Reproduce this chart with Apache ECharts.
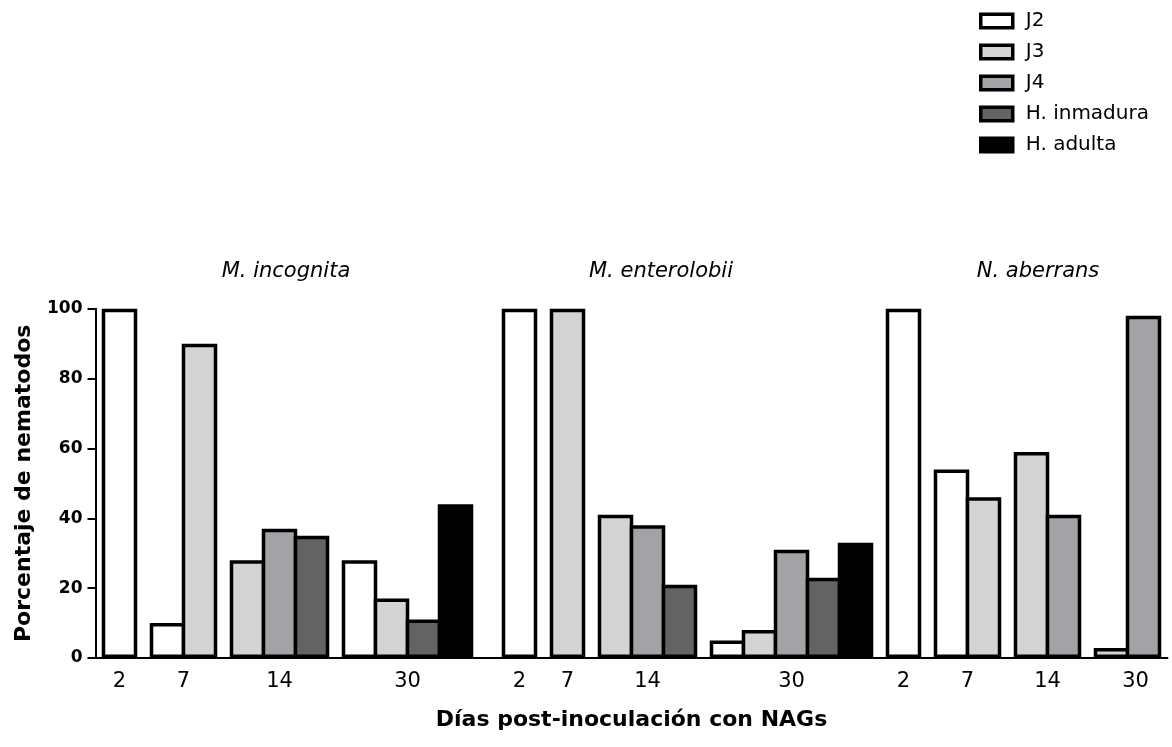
<!DOCTYPE html>
<html>
<head>
<meta charset="utf-8">
<script src="https://cdn.jsdelivr.net/npm/echarts@6/dist/echarts.min.js"></script>
<style>
html,body{margin:0;padding:0;background:#fff;}
#chart{width:1172px;height:747px;}
</style>
</head>
<body>
<div id="chart"></div>
<script>
// ---- data ----
const stages = ['J2', 'J3', 'J4', 'H. inmadura', 'H. adulta'];
const species = ['M. incognita', 'M. enterolobii', 'N. aberrans'];
const days = ['2', '7', '14', '30'];
// rows: days (2, 7, 14, 30); columns: stages (J2, J3, J4, H. inmadura, H. adulta); null = no bar
const mIncognita = [
  [100, null, null, null, null],
  [10, 90, null, null, null],
  [null, 28, 37, 35, null],
  [28, 17, null, 11, 44]
];
const mEnterolobii = [
  [100, null, null, null, null],
  [null, 100, null, null, null],
  [null, 41, 38, 21, null],
  [5, 8, 31, 23, 33]
];
const nAberrans = [
  [100, null, null, null, null],
  [54, 46, null, null, null],
  [null, 59, 41, null, null],
  [null, 2, 98, null, null]
];
const yTicks = [0, 20, 40, 60, 80, 100];

// ---- style ----
const stageColors = ['#ffffff', '#d4d4d4', '#a3a3a7', '#636363', '#000000'];
const FONT = 'DejaVu Sans';

// ---- layout in half-slot categories ----
const speciesData = [mIncognita, mEnterolobii, nAberrans];
const gapBeforeSpecies = [1, 4, 3];   // spacer half-slots before each species block
const gapBetweenDays = 3;
const gapBetweenBars = 2;
const labelShift = {'2-3': 8};        // px shift of a day label (species-day)

const cells = [];     // each: {stage, value} or null
const dayLabels = {}; // category index -> {text, shift}
const tickIdx = new Set();
let pos = null;
speciesData.forEach((sp, s) => {
  sp.forEach((row, d) => {
    const gap = d === 0 ? gapBeforeSpecies[s] : gapBetweenDays;
    let first = null, last = null, k = 0;
    row.forEach((v, st) => {
      if (v === null) return;
      if (pos === null) pos = gap;
      else pos += (k === 0 ? gap : gapBetweenBars);
      while (cells.length <= pos) cells.push(null);
      cells[pos] = {stage: st, value: v};
      tickIdx.add(pos);
      if (first === null) first = pos;
      last = pos;
      k++;
    });
    dayLabels[(first + last) / 2] = {text: days[d], shift: labelShift[s + '-' + d] || 0};
  });
});
while (cells.length < pos + 2) cells.push(null);
const categories = cells.map((c, i) => 'c' + i);

const series = stages.map((name, st) => ({
  name: name,
  type: 'bar',
  barWidth: 35.5,
  barGap: '-100%',
  barMinHeight: 10,
  data: cells.map(c => (c && c.stage === st) ? c.value : null),
  itemStyle: {color: stageColors[st], borderColor: '#000', borderWidth: 3.5},
  emphasis: {disabled: true},
  animation: false
}));

const chart = echarts.init(document.getElementById('chart'), null, {renderer: 'canvas'});
chart.setOption({
  backgroundColor: '#ffffff',
  animation: false,
  title: [
    {text: species[0], left: 281, top: 256, textAlign: 'center',
     textStyle: {fontFamily: FONT, fontSize: 21, fontStyle: 'italic', fontWeight: 'normal', color: '#000'}},
    {text: species[1], left: 656, top: 256, textAlign: 'center',
     textStyle: {fontFamily: FONT, fontSize: 21, fontStyle: 'italic', fontWeight: 'normal', color: '#000'}},
    {text: species[2], left: 1033, top: 256, textAlign: 'center',
     textStyle: {fontFamily: FONT, fontSize: 21, fontStyle: 'italic', fontWeight: 'normal', color: '#000'}}
  ],
  legend: {
    orient: 'vertical',
    left: 974,
    top: 6,
    icon: 'rect',
    itemWidth: 32,
    itemHeight: 13.5,
    itemGap: 11,
    selectedMode: false,
    itemStyle: {borderColor: '#000', borderWidth: 3.5},
    textStyle: {fontFamily: FONT, fontSize: 20, color: '#000', padding: [0, 0, 0, 8]},
    data: stages
  },
  grid: {left: 95.5, top: 308.7, width: 1072, height: 349.3, containLabel: false},
  xAxis: {
    type: 'category',
    data: categories,
    boundaryGap: true,
    name: 'Días post-inoculación con NAGs',
    nameLocation: 'middle',
    nameGap: 51,
    nameTextStyle: {fontFamily: FONT, fontSize: 22, fontWeight: 'bold', color: '#000'},
    axisLine: {lineStyle: {color: '#000', width: 2}},
    axisTick: {
      alignWithLabel: true,
      length: 7,
      lineStyle: {color: '#000', width: 2},
      interval: (i) => tickIdx.has(i)
    },
    axisLabel: {
      interval: (i) => dayLabels[i] !== undefined,
      formatter: (v, i) => {
        const l = dayLabels[i];
        if (!l) return '';
        return l.shift ? '{s|' + l.text + '}' : l.text;
      },
      rich: {s: {fontFamily: FONT, fontSize: 21, color: '#000', padding: [0, 0, 0, 16]}},
      margin: 13,
      fontFamily: FONT,
      fontSize: 21,
      color: '#000'
    },
    splitLine: {show: false}
  },
  yAxis: {
    type: 'value',
    min: yTicks[0],
    max: yTicks[yTicks.length - 1],
    interval: yTicks[1] - yTicks[0],
    name: 'Porcentaje de nematodos',
    nameLocation: 'middle',
    nameRotate: 90,
    nameGap: 60,
    nameTextStyle: {fontFamily: FONT, fontSize: 22, fontWeight: 'bold', color: '#000'},
    axisLine: {show: true, lineStyle: {color: '#000', width: 2}},
    axisTick: {show: true, length: 8, lineStyle: {color: '#000', width: 2}},
    axisLabel: {fontFamily: FONT, fontSize: 17, fontWeight: 'bold', color: '#000', margin: 13},
    splitLine: {show: false}
  },
  series: series
});
</script>
</body>
</html>
